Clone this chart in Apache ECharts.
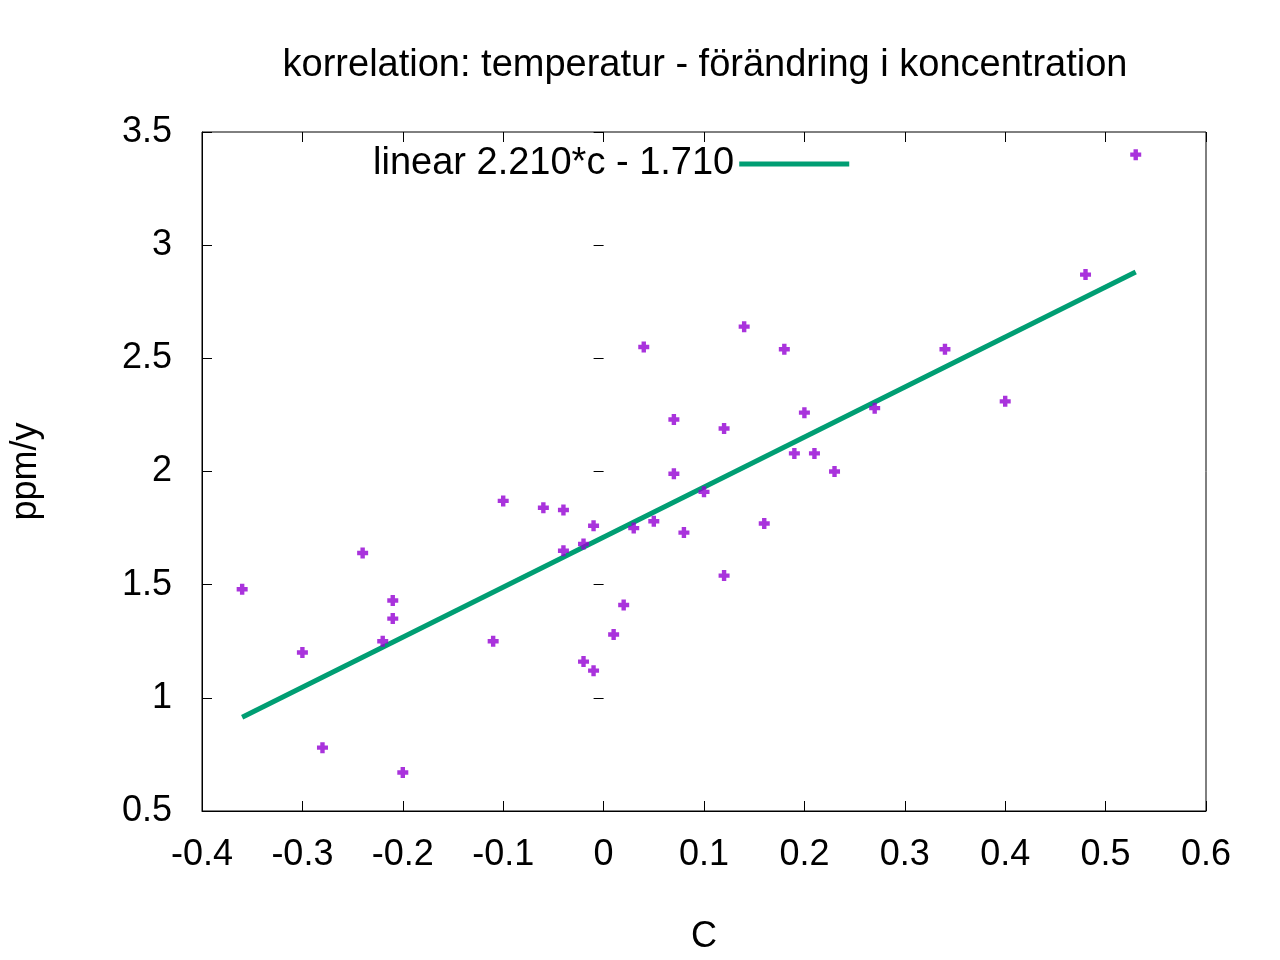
<!DOCTYPE html>
<html>
<head>
<meta charset="utf-8">
<script src="https://cdn.jsdelivr.net/npm/echarts@6/dist/echarts.min.js"></script>
<style>html,body{margin:0;background:#fff}#chart{width:1280px;height:960px}</style>
</head>
<body>
<div id="chart"></div>
<script>
var xValues = [-0.36, -0.30, -0.28, -0.24, -0.22, -0.21, -0.21, -0.20, -0.11, -0.10,
    -0.06, -0.04, -0.04, -0.02, -0.02, -0.01, -0.01, 0.01, 0.02, 0.03,
    0.04, 0.05, 0.07, 0.07, 0.08, 0.10, 0.12, 0.12, 0.14, 0.16,
    0.18, 0.19, 0.20, 0.21, 0.23, 0.27, 0.34, 0.40, 0.48, 0.53];
var yValues = [1.48, 1.20, 0.78, 1.64, 1.25, 1.43, 1.35, 0.67, 1.25, 1.87,
    1.84, 1.83, 1.65, 1.68, 1.16, 1.76, 1.12, 1.28, 1.41, 1.75,
    2.55, 1.78, 2.23, 1.99, 1.73, 1.91, 2.19, 1.54, 2.64, 1.77,
    2.54, 2.08, 2.26, 2.08, 2.00, 2.28, 2.54, 2.31, 2.87, 3.40];
var fitSlope = 2.21;
var fitIntercept = 1.71;
var fitX = [-0.36, 0.53];
var fitName = 'linear 2.210*c - 1.710';

var points = xValues.map(function(x, i){ return [x, yValues[i]]; });
var fitLine = fitX.map(function(x){ return [x, fitSlope * x + fitIntercept]; });

var font = 'Liberation Sans, Arial, sans-serif';
var fs = 36;
var plus = 'path://M3,0 L7,0 L7,3 L10,3 L10,7 L7,7 L7,10 L3,10 L3,7 L0,7 L0,3 L3,3 Z';

var chart = echarts.init(document.getElementById('chart'));
var tick = {inside: true, length: 10, lineStyle: {color: '#000'}};
var fmt = function(v){ return String(Math.round(v * 10) / 10); };
var option = {
    animation: false,
    title: {
        text: 'korrelation: temperatur - förändring i koncentration',
        left: 700, top: 42, textAlign: 'center',
        textStyle: {fontFamily: font, fontWeight: 'normal', fontSize: 38, color: '#000'}
    },
    legend: {
        data: [{name: fitName, icon: 'rect'}],
        left: 368, top: 140, align: 'right',
        itemWidth: 110, itemHeight: 5, itemGap: 25,
        textStyle: {fontFamily: font, fontSize: 38, color: '#000'}
    },
    grid: {left: 200, right: 74, top: 132, bottom: 142, show: true, borderColor: '#000', borderWidth: 1},
    xAxis: [{
        type: 'value', min: -0.4, max: 0.6, interval: 0.1,
        name: 'C', nameLocation: 'middle', nameGap: 108,
        nameTextStyle: {fontFamily: font, fontSize: fs, color: '#000'},
        axisLine: {onZero: false, lineStyle: {color: '#000'}}, axisTick: tick, splitLine: {show: false},
        axisLabel: {fontFamily: font, fontSize: fs, color: '#000', margin: 26, formatter: fmt}
    }, {
        type: 'value', position: 'top', min: -0.4, max: 0.6, interval: 0.1,
        axisLine: {show: false}, axisTick: tick, axisLabel: {show: false}, splitLine: {show: false}
    }],
    yAxis: [{
        type: 'value', min: 0.5, max: 3.5, interval: 0.5,
        name: 'ppm/y', nameLocation: 'middle', nameGap: 158, nameRotate: 90,
        nameTextStyle: {fontFamily: font, fontSize: fs, color: '#000'},
        axisLine: {show: true, onZero: false, lineStyle: {color: '#000'}}, axisTick: tick, splitLine: {show: false},
        axisLabel: {fontFamily: font, fontSize: fs, color: '#000', margin: 30, formatter: fmt}
    }, {
        type: 'value', position: 'right', min: 0.5, max: 3.5, interval: 0.5,
        axisLine: {show: false}, axisTick: tick, axisLabel: {show: false}, splitLine: {show: false}
    }],
    series: [{
        name: 'data', type: 'scatter', data: points,
        symbol: plus, symbolSize: 11,
        itemStyle: {color: '#9400d3'}
    }, {
        name: fitName, type: 'line', data: fitLine,
        symbol: 'none', z: 1,
        lineStyle: {color: '#009e73', width: 5},
        itemStyle: {color: '#009e73'}
    }]
};
chart.setOption(option);
</script>
</body>
</html>
